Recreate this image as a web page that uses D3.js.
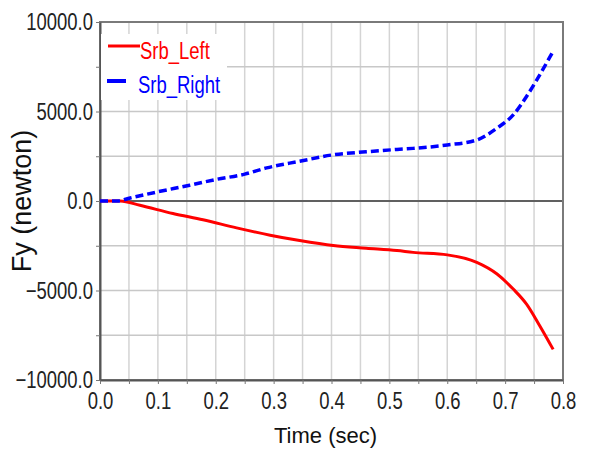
<!DOCTYPE html>
<html>
<head>
<meta charset="utf-8">
<script src="https://cdnjs.cloudflare.com/ajax/libs/d3/7.8.5/d3.min.js"></script>
<style>
  body { margin: 0; background: #fff; }
  text { font-family: "Liberation Sans", Arial, sans-serif; }
</style>
</head>
<body>
<div id="chart"></div>
<script>
// Srb_Left: time (sec) and Fy (newton)
var srbLeftT = [0.0, 0.035, 0.069, 0.126, 0.178, 0.236, 0.294, 0.345, 0.403, 0.46, 0.513, 0.541, 0.6, 0.651, 0.686, 0.714, 0.737, 0.76, 0.783];
var srbLeft  = [0, 0, -240, -700, -1050, -1500, -1910, -2210, -2490, -2640, -2770, -2870, -3010, -3430, -4080, -4920, -5760, -6980, -8290];
// Srb_Right: time (sec) and Fy (newton)
var srbRightT = [0.0, 0.03, 0.052, 0.098, 0.155, 0.2, 0.25, 0.288, 0.345, 0.403, 0.46, 0.513, 0.541, 0.6, 0.651, 0.686, 0.714, 0.737, 0.755, 0.783];
var srbRight  = [0, 0, 170, 500, 880, 1200, 1500, 1850, 2220, 2580, 2750, 2880, 2940, 3130, 3410, 4070, 4810, 5840, 6780, 8370];

var xTicks = [0.0, 0.1, 0.2, 0.3, 0.4, 0.5, 0.6, 0.7, 0.8];
var xGrid = d3.range(0, 17).map(function(i){ return i * 0.05; });
var yTicks = [-10000, -5000, 0, 5000, 10000];
var yGrid = [-10000, -7500, -5000, -2500, 0, 2500, 5000, 7500, 10000];
var seriesNames = ["Srb_Left", "Srb_Right"];
var seriesColors = ["#ff0000", "#0000ff"];

var W = 590, H = 450;
var margin = {top: 22, right: 27, bottom: 70, left: 100};
var width = W - margin.left - margin.right;
var height = H - margin.top - margin.bottom;
var narrow = 0.77;

var svg = d3.select("#chart").append("svg").attr("width", W).attr("height", H)
  .append("g").attr("transform", "translate(" + margin.left + "," + margin.top + ")");

var x = d3.scaleLinear().domain([0, 0.8]).range([0, width]);
var y = d3.scaleLinear().domain([-10000, 10000]).range([height, 0]);

// grid
svg.append("g").selectAll("line").data(xGrid).enter().append("line")
  .attr("x1", function(d){ return x(d); }).attr("x2", function(d){ return x(d); })
  .attr("y1", 0).attr("y2", height)
  .attr("stroke", "#d4d4d4").attr("stroke-width", 1.5);
svg.append("g").selectAll("line").data(yGrid).enter().append("line")
  .attr("x1", 0).attr("x2", width)
  .attr("y1", function(d){ return y(d); }).attr("y2", function(d){ return y(d); })
  .attr("stroke", "#c8c8c8").attr("stroke-width", 1.5);

// zero line
svg.append("line").attr("x1", 0).attr("x2", width).attr("y1", y(0)).attr("y2", y(0))
  .attr("stroke", "#606060").attr("stroke-width", 2);

// frame
svg.append("rect").attr("x", 0).attr("y", 0).attr("width", width).attr("height", height)
  .attr("fill", "none").attr("stroke", "#7a7a7a").attr("stroke-width", 2);

// axes
var xAxis = d3.axisBottom(x).tickValues(xGrid).tickSize(4).tickSizeOuter(0)
  .tickFormat(function(d){ return xTicks.some(function(t){ return Math.abs(t - d) < 1e-9; }) ? d3.format(".1f")(d) : ""; });
var gx = svg.append("g").attr("transform", "translate(0," + height + ")").call(xAxis);
gx.select(".domain").attr("stroke", "#555").attr("stroke-width", 2);
gx.selectAll(".tick line").attr("stroke", "#777");
gx.selectAll(".tick text").attr("font-size", 24).attr("fill", "#222")
  .attr("x", 0).attr("y", 12).attr("transform", "scale(" + narrow + ",1)");

var yAxis = d3.axisLeft(y).tickValues(yGrid).tickSize(4).tickSizeOuter(0)
  .tickFormat(function(d){ return yTicks.indexOf(d) >= 0 ? d3.format(".1f")(d) : ""; });
var gy = svg.append("g").call(yAxis);
gy.select(".domain").attr("stroke", "#555").attr("stroke-width", 2);
gy.selectAll(".tick line").attr("stroke", "#777");
gy.selectAll(".tick text").attr("font-size", 24).attr("fill", "#222")
  .attr("x", 0).attr("transform", "translate(-7,0) scale(" + narrow + ",1)");
svg.selectAll(".tick text").attr("font-family", "'Liberation Sans', Arial, sans-serif");

// lines
var line = d3.line().x(function(d){ return x(d[0]); }).y(function(d){ return y(d[1]); }).curve(d3.curveMonotoneX);
svg.append("path").datum(d3.zip(srbLeftT, srbLeft)).attr("d", line)
  .attr("fill", "none").attr("stroke", seriesColors[0]).attr("stroke-width", 3);
svg.append("path").datum(d3.zip(srbRightT, srbRight)).attr("d", line)
  .attr("fill", "none").attr("stroke", seriesColors[1]).attr("stroke-width", 3.5)
  .attr("stroke-dasharray", "8,4");

// legend
var lg = svg.append("g").attr("transform", "translate(1,12)");
lg.append("rect").attr("x", 0).attr("y", 0).attr("width", 126).attr("height", 66).attr("fill", "#fff");
lg.append("line").attr("x1", 7).attr("x2", 39).attr("y1", 12).attr("y2", 12)
  .attr("stroke", seriesColors[0]).attr("stroke-width", 3);
lg.append("text").attr("transform", "translate(39,25) scale(" + narrow + ",1)").text(seriesNames[0])
  .attr("fill", seriesColors[0]).attr("font-size", 24);
lg.append("line").attr("x1", 6).attr("x2", 25).attr("y1", 47).attr("y2", 47)
  .attr("stroke", seriesColors[1]).attr("stroke-width", 4);
lg.append("text").attr("transform", "translate(37,59) scale(" + narrow + ",1)").text(seriesNames[1])
  .attr("fill", seriesColors[1]).attr("font-size", 24);

// axis titles
svg.append("text").attr("x", width / 2 - 6).attr("y", height + 63).attr("text-anchor", "middle")
  .attr("font-size", 22).attr("fill", "#111")
  .text("Time (sec)");
svg.append("text").attr("transform", "rotate(-90)").attr("x", -(y(0))).attr("y", -69)
  .attr("text-anchor", "middle")
  .attr("font-size", 27).attr("fill", "#111")
  .text("Fy (newton)");
</script>
</body>
</html>
